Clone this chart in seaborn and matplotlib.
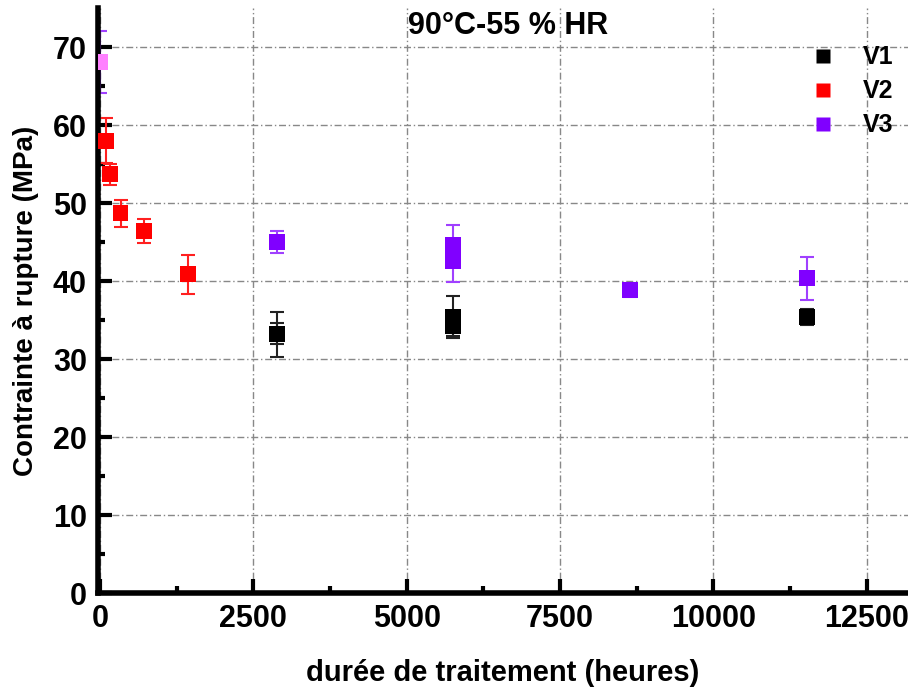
import numpy as np
import pandas as pd
import matplotlib
matplotlib.use("Agg")
import matplotlib.pyplot as plt
import seaborn as sns

# durée de traitement (heures), contrainte (MPa), écart
v1_x = [2880, 2880, 5760, 5760, 11520]
v1_y = [33.2, 33.3, 35.4, 34.2, 35.4]
v1_err = [2.9, 1.4, 2.65, 1.2, 1.0]

v2_x = [96, 168, 336, 720, 1440]
v2_y = [58.0, 53.7, 48.7, 46.45, 40.9]
v2_err = [2.9, 1.3, 1.7, 1.55, 2.5]

v3_x = [2880, 5760, 5760, 8640, 11520]
v3_y = [45.0, 44.7, 42.6, 38.9, 40.4]
v3_err = [1.4, 2.5, 2.7, 0.9, 2.75]

ref_x = [0]
ref_y = [68.1]
ref_err = [4.0]

series = ["V1", "V2", "V3"]
colors = {"V1": "#000000", "V2": "#ff0000", "V3": "#8000ff"}
err_colors = {"V1": "#222222", "V2": "#ff2020", "V3": "#a040ff"}

df = pd.concat([
    pd.DataFrame({"x": v1_x, "y": v1_y, "err": v1_err, "serie": "V1"}),
    pd.DataFrame({"x": v2_x, "y": v2_y, "err": v2_err, "serie": "V2"}),
    pd.DataFrame({"x": v3_x, "y": v3_y, "err": v3_err, "serie": "V3"}),
], ignore_index=True)

sns.set_style("white", {"xtick.bottom": True, "ytick.left": True,
                        "text.color": "black", "axes.labelcolor": "black",
                        "xtick.color": "black", "ytick.color": "black"})
plt.rcParams["font.family"] = ["Liberation Sans", "DejaVu Sans"]
plt.rcParams["font.weight"] = "bold"

fig = plt.figure(figsize=(9.08, 6.89), dpi=100)
ax = fig.add_axes([0.108, 0.139, 0.892, 0.849])

# barres d'erreur
for s in series:
    d = df[df["serie"] == s]
    ax.errorbar(d["x"], d["y"], yerr=d["err"], fmt="none", ecolor=err_colors[s],
                elinewidth=1.5, capsize=5, capthick=1.5, zorder=2)
ax.errorbar(ref_x, ref_y, yerr=ref_err, fmt="none", ecolor="#a040ff",
            elinewidth=1.5, capsize=5, capthick=1.5, zorder=2)

sns.scatterplot(data=df, x="x", y="y", hue="serie", palette=colors, marker="s",
                s=130, edgecolor="none", ax=ax, zorder=3)
ax.scatter(ref_x, ref_y, marker="s", s=130, color="#ff80ff", edgecolor="none", zorder=3)

ax.set_xlim(-30, 13170)
ax.set_ylim(0, 75)
ax.set_xticks(np.arange(0, 12501, 2500))
ax.set_xticks(np.arange(1250, 12501, 2500), minor=True)
ax.set_yticks(np.arange(0, 71, 10))
ax.set_yticks(np.arange(5, 75, 10), minor=True)

ax.grid(True, which="major", color="#888888", linestyle=(0, (5, 2, 1, 2)), linewidth=1)
for side in ["top", "right"]:
    ax.spines[side].set_visible(False)
for side in ["left", "bottom"]:
    ax.spines[side].set_linewidth(4)
    ax.spines[side].set_color("black")

ax.tick_params(which="major", direction="in", length=10, width=3, labelsize=22,
               pad=8, colors="black", bottom=True, left=True)
ax.tick_params(which="minor", direction="in", length=5, width=3, colors="black",
               bottom=True, left=True)
for lab in ax.get_xticklabels() + ax.get_yticklabels():
    lab.set_fontweight("bold")

ax.set_xlabel("durée de traitement (heures)", fontsize=21, fontweight="bold",
              labelpad=18, color="black")
ax.set_ylabel("Contrainte à rupture (MPa)", fontsize=20, fontweight="bold",
              labelpad=10, color="black")

ax.text(0.506, 0.995, "90°C-55 % HR", transform=ax.transAxes, ha="center", va="top",
        fontsize=22, fontweight="bold", color="black")

leg = ax.legend(loc="upper right", bbox_to_anchor=(1.01, 0.975), frameon=False,
                fontsize=18, handletextpad=0.6, labelspacing=0.4, markerscale=0.9)
for t in leg.get_texts():
    t.set_fontweight("bold")
    t.set_color("black")

fig.savefig("out.png", dpi=100)
